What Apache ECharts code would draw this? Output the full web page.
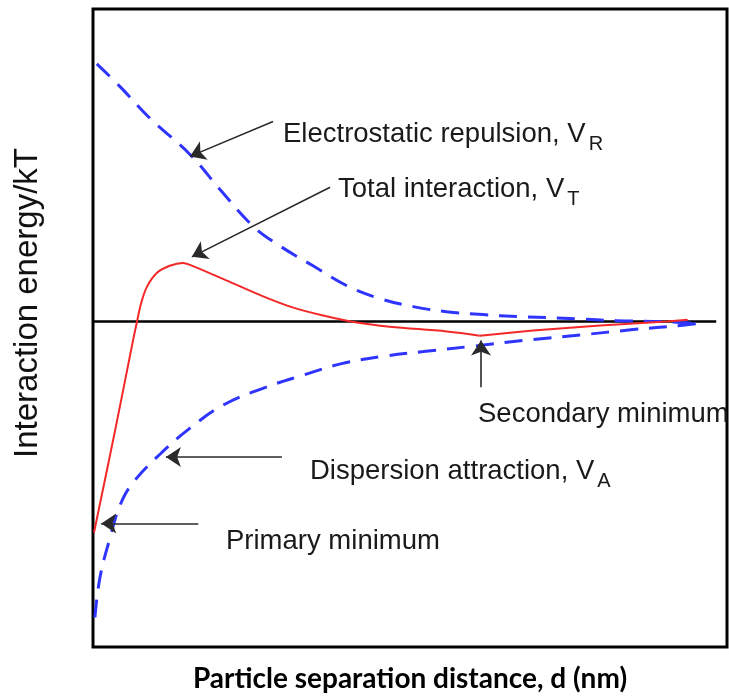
<!DOCTYPE html>
<html>
<head>
<meta charset="utf-8">
<script src="https://cdn.jsdelivr.net/npm/echarts@6/dist/echarts.min.js"></script>
<style>
  html, body { margin: 0; padding: 0; background: #fff; }
  #chart { width: 729px; height: 698px; }
</style>
</head>
<body>
<div id="chart"></div>
<script>
// ---- Data (x = separation in axis units, y = energy in axis units) ----
var vrX = [0.6, 4.3, 9.0, 15.3, 20.0, 25.2, 29.5, 34.7, 40.1, 45.3, 50.5, 55.8, 61.5, 66.9, 76.3, 82.6, 90.5, 95.3];
var vrY = [8.08, 7.36, 6.37, 5.24, 4.15, 3.0, 2.37, 1.75, 1.12, 0.72, 0.47, 0.31, 0.22, 0.16, 0.09, 0.03, 0.0, -0.06];

var vaX = [0.3, 1.1, 2.7, 4.3, 6.3, 10.6, 15.3, 20.5, 26.8, 33.1, 39.4, 45.7, 52.1, 59.5, 69.4, 77.3, 85.2, 92.6, 95.3];
var vaY = [-9.27, -8.02, -6.77, -5.74, -5.05, -4.15, -3.34, -2.62, -2.09, -1.68, -1.31, -1.09, -0.94, -0.78, -0.56, -0.41, -0.25, -0.12, -0.06];

var vtX = [0.16, 3.6, 6.3, 6.94, 7.57, 8.5, 10.1, 12.1, 14.2, 15.3, 20.5, 25.9, 31.1, 36.3, 41.6, 46.8, 55.8, 61.0, 69.4, 80.0, 90.5, 93.8];
var vtY = [-6.61, -3.3, -0.6, 0.0, 0.56, 1.09, 1.53, 1.75, 1.84, 1.78, 1.34, 0.87, 0.47, 0.19, -0.03, -0.16, -0.31, -0.44, -0.28, -0.12, 0.0, 0.06];
var vtKink = 17; // index of the secondary minimum (sharp corner)

var zeroX = [0, 98.3];
var zeroY = [0, 0];

// arrows: [tailX, tailY, headX, headY]
var arrowRepulsion = [28.4, 6.27, 15.3, 5.18];
var arrowTotal = [37.4, 4.21, 15.6, 2.03];
var arrowSecondary = [61.2, -2.06, 61.2, -0.59];
var arrowDispersion = [29.8, -4.24, 11.5, -4.24];
var arrowPrimary = [16.6, -6.33, 1.3, -6.33];

// annotation texts: [main text, subscript]
var labelRepulsion = ['Electrostatic repulsion, V', 'R'];
var labelTotal = ['Total interaction, V', 'T'];
var labelSecondary = ['Secondary minimum', ''];
var labelDispersion = ['Dispersion attraction, V', 'A'];
var labelPrimary = ['Primary minimum', ''];

var xTitle = 'Particle separation distance, d (nm)';
var yTitle = 'Interaction energy/kT';

function pairs(xs, ys) { return xs.map(function (x, i) { return [x, ys[i]]; }); }
function arrow(a) { return [{ coord: [a[0], a[1]] }, { coord: [a[2], a[3]] }]; }

var vtData = pairs(vtX, vtY);
var blue = '#2f35ff';
var red = '#f42828';
var textFont = '"Liberation Sans", Arial, Helvetica, sans-serif';
var annSize = 27.5;
var subSize = 20;
var textColor = '#1a1a1a';

var measureCtx = document.createElement('canvas').getContext('2d');
function textWidth(t, size) { measureCtx.font = size + 'px ' + textFont; return measureCtx.measureText(t).width; }

function annotation(lbl, x, y) {
  var els = [{
    type: 'text', x: x, y: y, silent: true,
    style: { text: lbl[0], font: annSize + 'px ' + textFont, fill: textColor, textAlign: 'left', textVerticalAlign: 'middle' }
  }];
  if (lbl[1]) {
    els.push({
      type: 'text', x: x + textWidth(lbl[0], annSize) + 3, y: y + 10, silent: true,
      style: { text: lbl[1], font: subSize + 'px ' + textFont, fill: textColor, textAlign: 'left', textVerticalAlign: 'middle' }
    });
  }
  return els;
}

var graphics = [].concat(
  annotation(labelRepulsion, 283, 134),
  annotation(labelTotal, 338, 189),
  annotation(labelSecondary, 478, 414),
  annotation(labelDispersion, 310, 471),
  annotation(labelPrimary, 226, 541),
  [{
    type: 'text', x: 28, y: 303, rotation: Math.PI / 2, silent: true,
    style: { text: yTitle, font: '33px ' + textFont, fill: '#111', textAlign: 'center', textVerticalAlign: 'middle' }
  }]
);

var chart = echarts.init(document.getElementById('chart'), null, { renderer: 'canvas' });
chart.setOption({
  animation: false,
  backgroundColor: '#fff',
  grid: { left: 93, top: 9, right: 2, bottom: 48, show: true, borderColor: '#000', borderWidth: 3, backgroundColor: 'transparent' },
  xAxis: {
    type: 'value', min: 0, max: 100,
    axisLine: { show: false }, axisTick: { show: false }, axisLabel: { show: false }, splitLine: { show: false },
    name: xTitle, nameLocation: 'middle', nameGap: 18,
    nameTextStyle: { fontFamily: 'Lato, "Open Sans", sans-serif', fontWeight: 'bold', fontSize: 28, color: '#000' }
  },
  yAxis: {
    type: 'value', min: -10.2, max: 9.8,
    axisLine: { show: false }, axisTick: { show: false }, axisLabel: { show: false }, splitLine: { show: false }
  },
  series: [
    {
      type: 'line', data: pairs(zeroX, zeroY), symbol: 'none', silent: true,
      lineStyle: { color: '#000', width: 2.5 }, z: 1,
      markLine: {
        silent: true, symbol: ['none', 'arrow'], symbolSize: 15, label: { show: false },
        lineStyle: { color: '#2a2a2a', width: 1.6, type: 'solid' },
        emphasis: { disabled: true },
        data: [arrow(arrowRepulsion), arrow(arrowTotal), arrow(arrowSecondary), arrow(arrowDispersion), arrow(arrowPrimary)]
      }
    },
    {
      name: 'Electrostatic repulsion', type: 'line', data: pairs(vrX, vrY), smooth: 0.4, symbol: 'none',
      lineStyle: { color: blue, width: 3, type: [18, 11] }, z: 3
    },
    {
      name: 'Dispersion attraction', type: 'line', data: pairs(vaX, vaY), smooth: 0.4, symbol: 'none',
      lineStyle: { color: blue, width: 3, type: [18, 11] }, z: 3
    },
    {
      name: 'Total interaction', type: 'line', data: vtData.slice(0, vtKink + 1), smooth: 0.35, symbol: 'none',
      lineStyle: { color: red, width: 2 }, z: 4
    },
    {
      name: 'Total interaction (tail)', type: 'line', data: vtData.slice(vtKink), smooth: false, symbol: 'none',
      lineStyle: { color: red, width: 2 }, z: 4
    }
  ],
  graphic: graphics
});
</script>
</body>
</html>
